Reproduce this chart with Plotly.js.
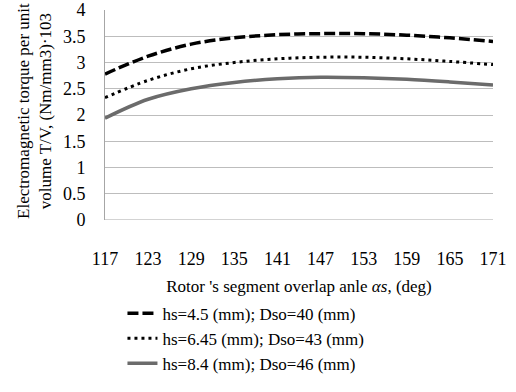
<!DOCTYPE html>
<html><head><meta charset="utf-8">
<script src="https://cdn.plot.ly/plotly-3.0.1.min.js"></script>
<style>
html,body{margin:0;padding:0;background:#fff}
#chart text{font-family:'Liberation Serif','Times New Roman',serif !important;}
</style>
</head><body><div id="chart"></div>
<script>
const angles = [117, 123, 129, 135, 141, 147, 153, 159, 165, 171];
const torque_hs45 = [2.78, 3.12, 3.35, 3.47, 3.53, 3.55, 3.55, 3.52, 3.47, 3.40];
const torque_hs645 = [2.33, 2.66, 2.88, 3.00, 3.07, 3.10, 3.10, 3.07, 3.02, 2.96];
const torque_hs84 = [1.94, 2.30, 2.50, 2.62, 2.69, 2.72, 2.71, 2.68, 2.63, 2.57];
const seriesNames = ['hs=4.5 (mm); Dso=40 (mm)', 'hs=6.45 (mm); Dso=43 (mm)', 'hs=8.4 (mm); Dso=46 (mm)'];
const xTicks = [117, 123, 129, 135, 141, 147, 153, 159, 165, 171];
const yTicks = [0, 0.5, 1, 1.5, 2, 2.5, 3, 3.5, 4];

const FAM = 'Times New Roman';
const traces = [
  {x: angles, y: torque_hs45, name: seriesNames[0], mode: 'lines', line: {color: '#000', width: 3.5, dash: '11px,4px', shape: 'spline'}},
  {x: angles, y: torque_hs645, name: seriesNames[1], mode: 'lines', line: {color: '#000', width: 3, dash: '3px,4px', shape: 'spline'}},
  {x: angles, y: torque_hs84, name: seriesNames[2], mode: 'lines', line: {color: '#6b6b6b', width: 3.5, shape: 'spline'}}
];
const layout = {
  width: 516, height: 392,
  margin: {l: 105, r: 23, t: 10, b: 159},
  paper_bgcolor: '#fff', plot_bgcolor: '#fff',
  font: {family: FAM, size: 17, color: '#000'},
  showlegend: true,
  legend: {x: 0.045, xanchor: 'left', y: -0.36, yanchor: 'top', font: {family: FAM, size: 17, color: '#000'}, bgcolor: 'rgba(0,0,0,0)', tracegroupgap: 0},
  xaxis: {
    range: [117, 171], tickvals: xTicks, ticktext: xTicks.map(String),
    showgrid: false, zeroline: false, showline: false, ticks: '',
    ticklabelstandoff: 26,
    tickfont: {family: FAM, size: 18, color: '#000'},
    title: {text: "Rotor 's segment overlap anle <i>αs</i>, (deg)", font: {family: FAM, size: 17, color: '#000'}, standoff: 12}
  },
  yaxis: {
    range: [0, 4], tickvals: yTicks, ticktext: yTicks.map(String),
    showgrid: true, gridcolor: '#bdbdbd', gridwidth: 1, zeroline: false,
    showline: true, linecolor: '#a6a6a6', linewidth: 1, ticks: '',
    ticklabelstandoff: 15,
    tickfont: {family: FAM, size: 18, color: '#000'}
  },
  shapes: [{type: 'line', xref: 'paper', yref: 'y', x0: 0, x1: 1, y0: 0, y1: 0, line: {color: '#a6a6a6', width: 1}}],
  annotations: [{
    xref: 'paper', yref: 'paper', x: -0.18, y: 0.52, xanchor: 'center', yanchor: 'middle',
    textangle: -90, showarrow: false,
    text: 'Electromagnetic torque per unit<br>volume T/V, (Nm/mm3)·103',
    font: {family: FAM, size: 17, color: '#000'}
  }]
};
function fixFonts() {
  document.querySelectorAll('#chart text, #chart tspan').forEach(t => {
    t.style.setProperty('font-family', "'Liberation Serif', 'Times New Roman', serif", 'important');
  });
}
Plotly.newPlot('chart', traces, layout, {staticPlot: true, displayModeBar: false}).then(fixFonts);
</script></body></html>
